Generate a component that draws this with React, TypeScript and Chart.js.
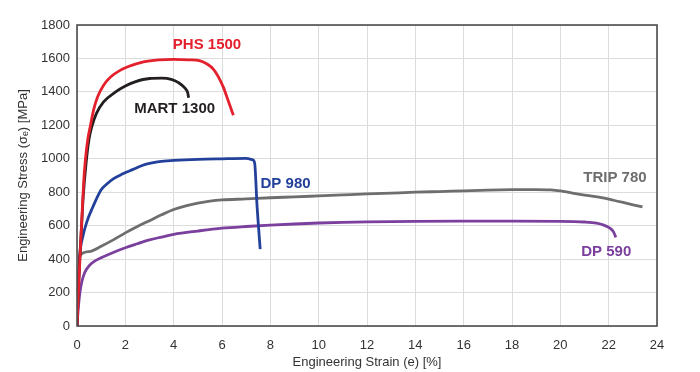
import React, { useEffect, useRef } from "react";
import { Chart, registerables } from "chart.js";

Chart.register(...registerables);

const xTicks = [0, 2, 4, 6, 8, 10, 12, 14, 16, 18, 20, 22, 24];
const yTicks = [0, 200, 400, 600, 800, 1000, 1200, 1400, 1600, 1800];

const phsStrain = [0, 0.12, 0.22, 0.28, 0.35, 0.45, 0.55, 0.7, 0.85, 1.1, 1.4, 1.8, 2.1, 2.75, 3.4, 4.0, 4.6, 5.1, 5.4, 5.65, 5.85, 6.05, 6.25, 6.47];
const phsStress = [0, 400, 700, 870, 1000, 1120, 1195, 1300, 1370, 1440, 1490, 1530, 1550, 1580, 1592, 1595, 1592, 1585, 1565, 1535, 1490, 1430, 1350, 1260];

const martStrain = [0, 0.08, 0.13, 0.19, 0.26, 0.38, 0.5, 0.62, 0.8, 1.1, 1.6, 2.0, 2.4, 3.0, 3.5, 3.9, 4.2, 4.45, 4.58, 4.62];
const martStress = [0, 300, 450, 600, 780, 980, 1120, 1195, 1270, 1340, 1400, 1435, 1460, 1480, 1482, 1475, 1455, 1425, 1395, 1365];

const dp980Strain = [0, 0.03, 0.07, 0.12, 0.25, 0.4, 0.65, 1.0, 1.2, 1.5, 1.9, 2.3, 2.7, 3.0, 3.4, 4.0, 5.0, 6.0, 7.0, 7.25, 7.35, 7.45, 7.58];
const dp980Stress = [0, 150, 300, 430, 540, 620, 710, 815, 845, 880, 910, 935, 960, 972, 983, 990, 997, 1000, 1002, 995, 975, 720, 460];

const tripStrain = [0, 0.05, 0.12, 0.5, 1.0, 1.5, 2.0, 2.5, 3.0, 3.5, 4.0, 4.5, 5.0, 5.5, 6.0, 7.0, 8.0, 9.0, 10.0, 11.0, 12.0, 13.0, 14.0, 15.0, 16.0, 17.0, 18.0, 19.0, 19.6, 20.0, 20.5, 21.0, 21.6, 22.2, 22.8, 23.4];
const tripStress = [0, 200, 420, 445, 477, 515, 557, 595, 630, 665, 697, 718, 735, 747, 754, 760, 767, 772, 778, 784, 790, 795, 800, 804, 808, 812, 815, 816, 814, 808, 795, 783, 770, 752, 732, 712];

const dp590Strain = [0, 0.05, 0.12, 0.2, 0.32, 0.5, 0.7, 1.0, 1.5, 2.0, 2.5, 3.0, 3.5, 4.0, 5.0, 6.0, 7.0, 8.0, 9.0, 10.0, 11.0, 12.0, 14.0, 16.0, 18.0, 20.0, 21.0, 21.5, 21.8, 22.05, 22.2, 22.3];
const dp590Stress = [0, 100, 200, 265, 320, 360, 385, 408, 440, 468, 492, 515, 532, 548, 568, 585, 595, 603, 610, 616, 620, 623, 626, 627, 627, 626, 622, 615, 603, 585, 563, 530];

const seriesNames = ["PHS 1500", "MART 1300", "DP 980", "TRIP 780", "DP 590"];
const seriesColors = ["#e4202c", "#231f20", "#23409a", "#6d6e70", "#7b3f9e"];
const labelX = [5.38, 4.04, 8.63, 22.26, 21.9];
const labelY = [1680, 1297, 848, 884, 441];

const toPoints = (xs: number[], ys: number[]) => xs.map((x, i) => ({ x, y: ys[i] }));

export default function App() {
  const ref = useRef<HTMLCanvasElement | null>(null);

  useEffect(() => {
    if (!ref.current) return;
    const series = [
      toPoints(phsStrain, phsStress),
      toPoints(martStrain, martStress),
      toPoints(dp980Strain, dp980Stress),
      toPoints(tripStrain, tripStress),
      toPoints(dp590Strain, dp590Stress),
    ];
    const font = "'Liberation Sans', Arial, Helvetica, sans-serif";

    const decor = {
      id: "decor",
      afterDatasetsDraw(chart: any) {
        const { ctx, chartArea, scales } = chart;
        ctx.save();
        ctx.strokeStyle = "#4d4d4d";
        ctx.lineWidth = 1.6;
        ctx.strokeRect(chartArea.left, chartArea.top, chartArea.right - chartArea.left, chartArea.bottom - chartArea.top);
        ctx.font = `bold 15px ${font}`;
        ctx.textAlign = "center";
        ctx.textBaseline = "middle";
        seriesNames.forEach((name, i) => {
          ctx.fillStyle = seriesColors[i];
          ctx.fillText(name, scales.x.getPixelForValue(labelX[i]), scales.y.getPixelForValue(labelY[i]));
        });
        ctx.restore();
      },
    };

    const chart = new Chart(ref.current, {
      type: "line",
      data: {
        datasets: series.map((data, i) => ({
          label: seriesNames[i],
          data,
          borderColor: seriesColors[i],
          backgroundColor: seriesColors[i],
          borderWidth: 2.8,
          pointRadius: 0,
          cubicInterpolationMode: "monotone" as const,
          fill: false,
        })),
      },
      options: {
        animation: false,
        responsive: true,
        maintainAspectRatio: false,
        layout: { padding: { left: 0, right: 43, top: 25, bottom: 0 } },
        plugins: { legend: { display: false }, tooltip: { enabled: false } },
        scales: {
          x: {
            type: "linear",
            min: 0,
            max: 24,
            afterBuildTicks: (s: any) => { s.ticks = xTicks.map((v) => ({ value: v })); },
            afterFit: (s: any) => { s.height = 46; },
            grid: { color: "#dcdcdc", lineWidth: 1, drawTicks: false },
            border: { display: false },
            ticks: { padding: 12, color: "#333", font: { family: font, size: 13 }, callback: (v: any) => String(v) },
            title: {
              display: true,
              text: "Engineering Strain (e) [%]",
              color: "#333",
              font: { family: font, size: 13 },
              padding: { top: 0, bottom: 2 },
            },
          },
          y: {
            type: "linear",
            min: 0,
            max: 1800,
            afterBuildTicks: (s: any) => { s.ticks = yTicks.map((v) => ({ value: v })); },
            afterFit: (s: any) => { s.width = 77; },
            grid: { color: "#dcdcdc", lineWidth: 1, drawTicks: false },
            border: { display: false },
            ticks: { padding: 7, color: "#333", font: { family: font, size: 13 }, callback: (v: any) => String(v) },
            title: {
              display: true,
              text: "Engineering Stress (σₑ) [MPa]",
              color: "#333",
              font: { family: font, size: 13 },
              padding: { top: 16, bottom: 0 },
            },
          },
        },
      },
      plugins: [decor],
    });
    return () => chart.destroy();
  }, []);

  return (
    <div style={{ position: "fixed", left: 0, top: 0, width: 700, height: 372, background: "#fff" }}>
      <canvas ref={ref} />
    </div>
  );
}
